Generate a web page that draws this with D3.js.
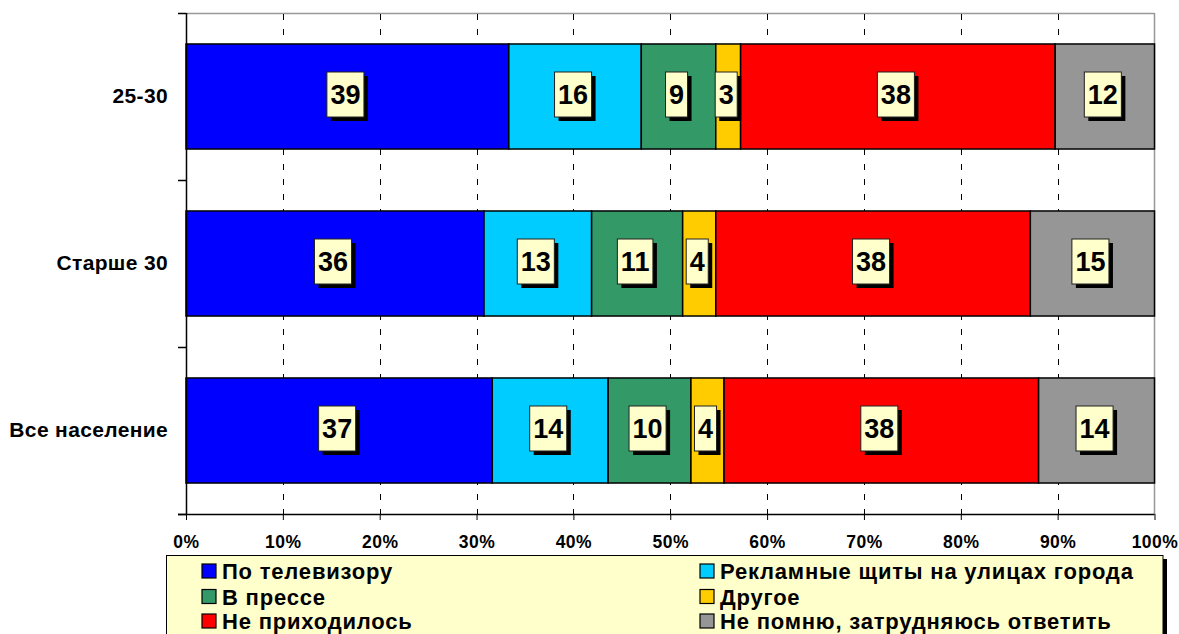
<!DOCTYPE html>
<html><head><meta charset="utf-8">
<script src="https://cdn.jsdelivr.net/npm/d3@7"></script>
<style>
html,body{margin:0;padding:0;background:#fff;}
svg{display:block;font-family:"Liberation Sans",Arial,sans-serif;font-weight:bold;}
</style></head>
<body>
<svg id="chart" width="1179" height="634"></svg>
<script>
// ---- data ----
const categories = ["25-30", "Старше 30", "Все население"];
const seriesNames = ["По телевизору", "Рекламные щиты на улицах города", "В прессе", "Другое", "Не приходилось", "Не помню, затрудняюсь ответить"];
const tvValues = [39, 36, 37];
const billboardValues = [16, 13, 14];
const pressValues = [9, 11, 10];
const otherValues = [3, 4, 4];
const neverValues = [38, 38, 38];
const dontRememberValues = [12, 15, 14];
const seriesColors = ["#0000FF", "#00CCFF", "#339966", "#FFCC00", "#FF0000", "#969696"];
const xTicks = [0, 0.1, 0.2, 0.3, 0.4, 0.5, 0.6, 0.7, 0.8, 0.9, 1.0];

const seriesValues = [tvValues, billboardValues, pressValues, otherValues, neverValues, dontRememberValues];

const svg = d3.select("#chart");
const pL = 186, pR = 1154.5, pT = 13, pB = 514;

const x = d3.scaleLinear().domain([0, 1]).range([pL, pR]);
const y = d3.scaleBand().domain(categories).range([pT, pB]).paddingInner(0.371).paddingOuter(0.1855);

const rows = categories.map((c, i) => {
  const obj = {cat: c};
  seriesNames.forEach((s, j) => obj[s] = seriesValues[j][i]);
  return obj;
});
const stack = d3.stack().keys(seriesNames).offset(d3.stackOffsetExpand);
const stacked = stack(rows);

// plot background and border
svg.append("rect").attr("x", pL).attr("y", pT).attr("width", pR - pL).attr("height", pB - pT).attr("fill", "#fff");
svg.append("line").attr("x1", pL).attr("x2", pR).attr("y1", pT + 0.5).attr("y2", pT + 0.5)
  .attr("stroke", "#999").attr("stroke-width", 1.5);
svg.append("line").attr("x1", pR).attr("x2", pR).attr("y1", pT).attr("y2", pB)
  .attr("stroke", "#999").attr("stroke-width", 1.5);

// gridlines
svg.append("g").selectAll("line").data(xTicks.slice(1, -1)).join("line")
  .attr("x1", d => Math.round(x(d)) + 0.5).attr("x2", d => Math.round(x(d)) + 0.5)
  .attr("y1", pT + 1).attr("y2", pB)
  .attr("stroke", "#000").attr("stroke-width", 1).attr("stroke-dasharray", "6,9");

// bars
const g = svg.append("g");
stacked.forEach((layer, j) => {
  g.append("g").selectAll("rect").data(layer).join("rect")
    .attr("x", d => x(d[0]))
    .attr("y", d => y(d.data.cat))
    .attr("width", d => x(d[1]) - x(d[0]))
    .attr("height", y.bandwidth())
    .attr("fill", seriesColors[j])
    .attr("stroke", "#000").attr("stroke-width", 1.5);
});

// value labels
const lab = svg.append("g");
stacked.forEach((layer, j) => {
  layer.forEach((d) => {
    const cx = (x(d[0]) + x(d[1])) / 2 - 2;
    const cy = y(d.data.cat) + y.bandwidth() / 2 - 2;
    const grp = lab.append("g");
    const t = grp.append("text").attr("x", cx).attr("y", cy).attr("text-anchor", "middle")
      .attr("dy", "0.36em").attr("font-size", 27).attr("fill", "#000")
      .text(d.data[seriesNames[j]]);
    const w = t.node().getComputedTextLength() + 7;
    const h = 45;
    grp.insert("rect", "text").attr("x", cx - w / 2 + 4).attr("y", cy - h / 2 + 4).attr("width", w).attr("height", h).attr("fill", "#000");
    grp.insert("rect", "text").attr("x", cx - w / 2).attr("y", cy - h / 2).attr("width", w).attr("height", h)
      .attr("fill", "#FFFFCC").attr("stroke", "#222").attr("stroke-width", 1);
  });
});

// x axis
const xAxis = d3.axisBottom(x).tickValues(xTicks).tickFormat(d3.format(".0%")).tickSize(6).tickPadding(16);
const xg = svg.append("g").attr("transform", `translate(0,${pB})`).call(xAxis);
xg.select(".domain").attr("stroke", "#000").attr("stroke-width", 1.5).attr("d", `M${pL - 8},0.5H${pR}`);
xg.selectAll(".tick line").attr("stroke", "#000");
xg.selectAll(".tick text").attr("font-size", 17.5).attr("letter-spacing", 0.5)
  .attr("font-family", "Liberation Sans, Arial, sans-serif").attr("font-weight", "bold").attr("fill", "#000");

// y axis
const yAxis = d3.axisLeft(y).tickSize(0).tickPadding(18);
const yg = svg.append("g").attr("transform", `translate(${pL},0)`).call(yAxis);
yg.select(".domain").attr("stroke", "#000").attr("stroke-width", 1.5).attr("d", `M0.5,${pT}V${pB}`);
yg.selectAll(".tick text").attr("font-size", 21).attr("letter-spacing", 0.35)
  .attr("font-family", "Liberation Sans, Arial, sans-serif").attr("font-weight", "bold").attr("fill", "#000");
const yb = [pT].concat(categories.map(c => y(c) + y.bandwidth() + (y.step() - y.bandwidth()) / 2));
svg.append("g").selectAll("line").data(yb).join("line")
  .attr("x1", pL - 8).attr("x2", pL).attr("y1", d => d + 0.5).attr("y2", d => d + 0.5)
  .attr("stroke", "#000").attr("stroke-width", 1.5);

// legend
const lg = svg.append("g");
lg.append("rect").attr("x", 170).attr("y", 559).attr("width", 997).attr("height", 100).attr("fill", "#000");
lg.append("rect").attr("x", 166.5).attr("y", 555.5).attr("width", 996.5).attr("height", 100)
  .attr("fill", "#FFFFCC").attr("stroke", "#000").attr("stroke-width", 1);
const colX = [202, 700];
const rowBase = [579, 604.5, 629];
seriesNames.forEach((s, j) => {
  const cxp = colX[j % 2], by = rowBase[Math.floor(j / 2)];
  lg.append("rect").attr("x", cxp).attr("y", by - 15).attr("width", 14).attr("height", 14)
    .attr("fill", seriesColors[j]).attr("stroke", "#000").attr("stroke-width", 1.2);
  lg.append("text").attr("x", cxp + 20).attr("y", by)
    .attr("font-size", 22).attr("letter-spacing", 0.8).attr("fill", "#000").text(s);
});
</script>
</body></html>
